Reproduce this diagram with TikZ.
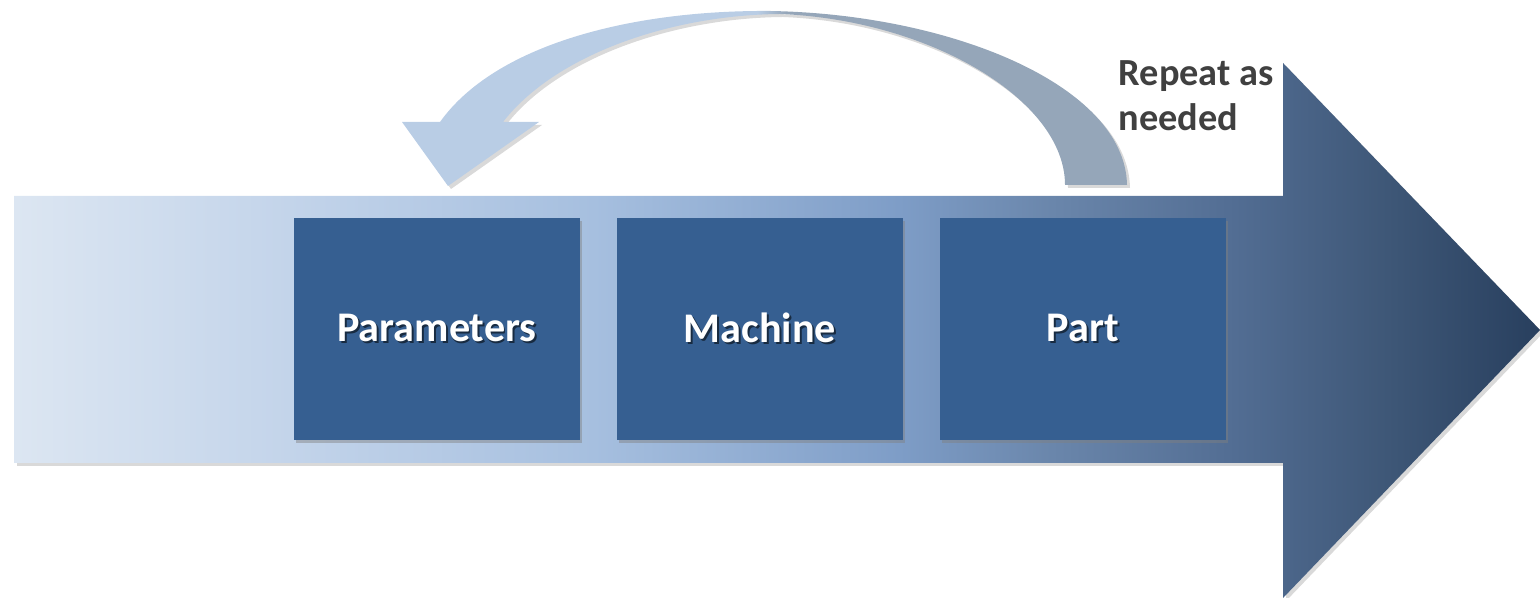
\documentclass[tikz,border=0pt]{standalone}
\usepackage{fontspec}
\setmainfont{Carlito}
\usetikzlibrary{shadows}

\definecolor{boxblue}{HTML}{365F91}
\definecolor{notegray}{HTML}{404040}
\pgfdeclarehorizontalshading{flowshade}{100bp}{color(0bp)=(rgb,255:red,220;green,230;blue,242);
  color(25bp)=(rgb,255:red,220;green,230;blue,242); color(34bp)=(rgb,255:red,195;green,212;blue,234);
  color(44bp)=(rgb,255:red,166;green,191;blue,223); color(54bp)=(rgb,255:red,126;green,157;blue,199);
  color(59bp)=(rgb,255:red,106;green,134;blue,171); color(65bp)=(rgb,255:red,82;green,109;blue,147);
  color(70bp)=(rgb,255:red,62;green,87;blue,119); color(75bp)=(rgb,255:red,40;green,63;blue,94);
  color(100bp)=(rgb,255:red,40;green,63;blue,94)}
\pgfdeclarehorizontalshading{loopshade}{100bp}{color(0bp)=(rgb,255:red,185;green,205;blue,229);
  color(49.5bp)=(rgb,255:red,185;green,205;blue,229); color(51.5bp)=(rgb,255:red,149;green,166;blue,185);
  color(100bp)=(rgb,255:red,149;green,166;blue,185)}
% white label with a soft dark shadow
\newcommand{\shadowlabel}[1]{\makebox[0pt][l]{\hspace{0.5pt}\raisebox{-0.6pt}{\textcolor{boxblue!45!black}{#1}}}#1}

\begin{document}
\begin{tikzpicture}[x=0.01cm,y=-0.01cm,
    step box/.style={rectangle,fill=boxblue,text=white,minimum width=2.86cm,minimum height=2.21cm,
      font=\fontsize{12}{14}\selectfont\bfseries,
      drop shadow={shadow xshift=0.02cm,shadow yshift=-0.03cm,opacity=0.45}},
    soft shadow/.style={drop shadow={shadow xshift=0.03cm,shadow yshift=-0.03cm,opacity=0.3}}]
    \useasboundingbox (0,0) rectangle (1540,598);

    % big process arrow
    \path[shading=flowshade,soft shadow] (14,196) -- (1283,196) -- (1283,63) -- (1540,330)
        -- (1283,598) -- (1283,463) -- (14,463) -- cycle;

    % loop back arrow
    \coordinate (tailout) at (1127,185);
    \coordinate (tailin) at (1065,185);
    \coordinate (headtip) at (448,186);
    \path[shading=loopshade,soft shadow] (tailout) .. controls (1125,85) and (950,14) .. (770,11)
        .. controls (630,10) and (495,45) .. (440,122) -- (402,122) -- (headtip) -- (539,122)
        -- (503,122) .. controls (555,55) and (670,15) .. (780,14)
        .. controls (930,20) and (1065,100) .. (tailin) -- cycle;

    \node[step box] (P) at (437,329) {\shadowlabel{Parameters}};
    \node[step box] (M) at (760,329) {\shadowlabel{Machine}};
    \node[step box] (T) at (1083,329) {\shadowlabel{Part}};

    \node[anchor=north west,align=left,inner sep=0pt,text=notegray,
        font=\fontsize{10.9}{12.8}\selectfont\bfseries] (note) at (1118,60) {Repeat as\\needed};
\end{tikzpicture}
\end{document}
